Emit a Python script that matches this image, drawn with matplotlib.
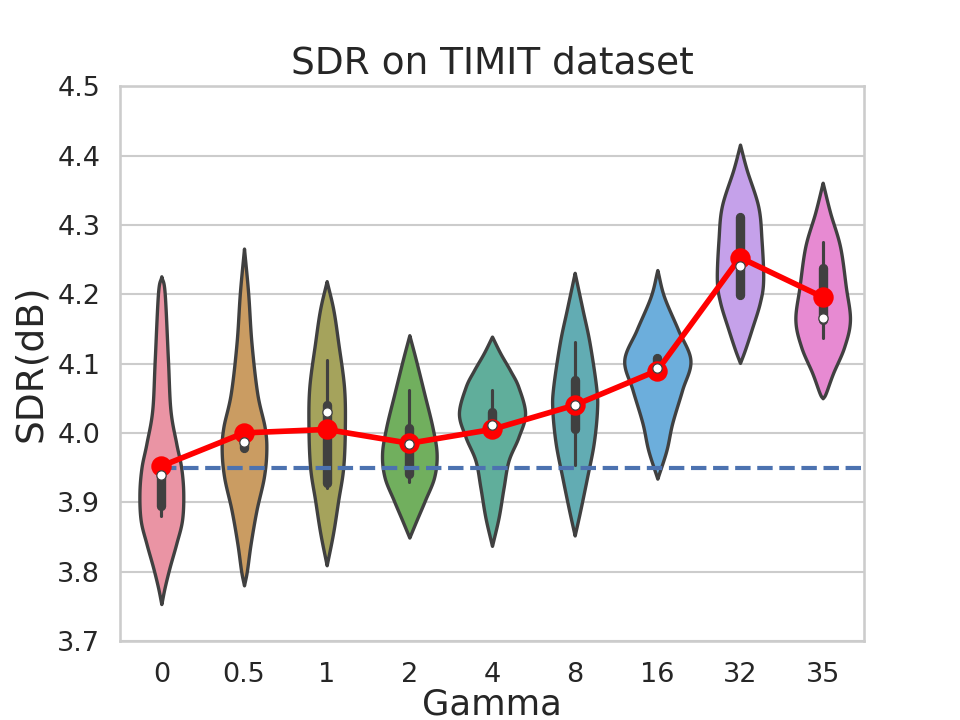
import numpy as np
import matplotlib
matplotlib.use("Agg")
import matplotlib.pyplot as plt
import seaborn as sns
import colorsys

# ---------------- data ----------------
gammas = ["0", "0.5", "1", "2", "4", "8", "16", "32", "35"]

# violin density profiles: SDR levels and half-widths (category units)
violin_levels = [
    [3.753, 3.777, 3.806, 3.840, 3.874, 3.913, 3.950, 3.985, 4.033, 4.105, 4.202, 4.226],
    [3.780, 3.801, 3.840, 3.888, 3.936, 3.975, 4.008, 4.057, 4.130, 4.202, 4.266],
    [3.809, 3.855, 3.903, 3.950, 4.008, 4.066, 4.130, 4.178, 4.219],
    [3.849, 3.874, 3.903, 3.936, 3.970, 4.008, 4.057, 4.105, 4.141],
    [3.837, 3.878, 3.921, 3.960, 3.994, 4.028, 4.066, 4.090, 4.115, 4.139],
    [3.852, 3.888, 3.936, 3.985, 4.033, 4.066, 4.130, 4.178, 4.231],
    [3.934, 3.975, 4.014, 4.062, 4.105, 4.149, 4.197, 4.235],
    [4.101, 4.120, 4.149, 4.188, 4.221, 4.279, 4.327, 4.380, 4.416],
    [4.050, 4.057, 4.086, 4.124, 4.163, 4.211, 4.269, 4.318, 4.361],
]
violin_halfwidths = [
    [0.0, 0.040, 0.10, 0.18, 0.25, 0.265, 0.24, 0.18, 0.11, 0.08, 0.04, 0.0],
    [0.0, 0.035, 0.08, 0.15, 0.24, 0.27, 0.25, 0.16, 0.09, 0.05, 0.0],
    [0.0, 0.077, 0.14, 0.20, 0.22, 0.21, 0.14, 0.08, 0.0],
    [0.0, 0.087, 0.19, 0.30, 0.33, 0.28, 0.18, 0.08, 0.0],
    [0.0, 0.08, 0.14, 0.20, 0.32, 0.40, 0.32, 0.22, 0.10, 0.0],
    [0.0, 0.067, 0.15, 0.23, 0.27, 0.26, 0.18, 0.095, 0.0],
    [0.0, 0.11, 0.18, 0.30, 0.40, 0.25, 0.08, 0.0],
    [0.0, 0.06, 0.14, 0.24, 0.28, 0.26, 0.22, 0.08, 0.0],
    [0.0, 0.036, 0.125, 0.26, 0.33, 0.28, 0.21, 0.09, 0.0],
]

q1 = [3.895, 3.978, 3.928, 3.941, 4.004, 4.006, 4.090, 4.199, 4.163]
medians = [3.939, 3.987, 4.030, 3.984, 4.011, 4.040, 4.094, 4.241, 4.166]
q3 = [3.943, 3.987, 4.040, 4.007, 4.030, 4.076, 4.108, 4.312, 4.238]
whisk_lo = [3.880, 3.978, 3.921, 3.929, 4.000, 3.953, 4.090, 4.199, 4.137]
whisk_hi = [3.943, 3.987, 4.105, 4.062, 4.062, 4.131, 4.108, 4.312, 4.276]

means = [3.952, 4.000, 4.005, 3.985, 4.005, 4.040, 4.090, 4.253, 4.196]
baseline = 3.95

# ---------------- style ----------------
sns.set_theme(style="whitegrid")
plt.rcParams["font.family"] = ["DejaVu Sans"]

fig, ax = plt.subplots(figsize=(6.4, 4.8), dpi=150)

pal = sns.color_palette("husl", len(gammas))
colors = []
for c in pal:
    d = np.array(sns.desaturate(c, 0.75))
    colors.append(tuple(d + (1 - d) * 0.15))
lum = min(colorsys.rgb_to_hls(*sns.desaturate(c, 0.75))[1] for c in pal) * 0.6
gray = (lum, lum, lum)


def catmull(ys, ws, n=30):
    ys = np.asarray(ys, float)
    ws = np.asarray(ws, float)
    P = np.column_stack([ys, ws])
    P = np.vstack([P[0] - (P[1] - P[0]), P, P[-1] + (P[-1] - P[-2])])
    out = []
    t = np.linspace(0, 1, n, endpoint=False)[:, None]
    for i in range(1, len(P) - 2):
        p0, p1, p2, p3 = P[i - 1], P[i], P[i + 1], P[i + 2]
        seg = 0.5 * ((2 * p1) + (-p0 + p2) * t + (2 * p0 - 5 * p1 + 4 * p2 - p3) * t ** 2
                     + (-p0 + 3 * p1 - 3 * p2 + p3) * t ** 3)
        out.append(seg)
    out.append(P[-2][None, :])
    out = np.vstack(out)
    return out[:, 0], np.clip(out[:, 1], 0, None)


for i in range(len(gammas)):
    yy, ww = catmull(violin_levels[i], violin_halfwidths[i])
    ax.fill_betweenx(yy, i - ww, i + ww, facecolor=colors[i], edgecolor=gray,
                     linewidth=1.6, zorder=1, joinstyle="round")
    ax.plot([i, i], [whisk_lo[i], whisk_hi[i]], color=gray, lw=1.5,
            solid_capstyle="round", zorder=2)
    ax.plot([i, i], [q1[i], q3[i]], color=gray, lw=4.5,
            solid_capstyle="round", zorder=2)

x = np.arange(len(gammas))
ax.plot([x[0], x[-1] + 0.6], [baseline, baseline], color="#4c72b0", lw=2,
        ls="--", zorder=2.2)

lw_pt = 1.5 * 1.8
ax.plot(x, means, color="red", lw=lw_pt, zorder=2.5, solid_capstyle="round")
ax.scatter(x, means, color="red", s=np.pi * lw_pt ** 2 * 2.2, linewidths=lw_pt,
           edgecolors="red", zorder=2.6)

ax.scatter(x, medians, color="white", edgecolors=gray, s=20,
           linewidths=0.6, zorder=3)

ax.set_xlim(-0.5, len(gammas) - 0.5)
ax.set_ylim(3.7, 4.5)
yt = np.round(np.arange(3.7, 4.51, 0.1), 1)
ax.set_yticks(yt)
ax.set_yticklabels([f"{v:.1f}" for v in yt], fontsize=13)
ax.set_xticks(x)
ax.set_xticklabels(gammas, fontsize=13)
ax.tick_params(axis="x", pad=4)
ax.xaxis.grid(False)
ax.set_xlabel("Gamma", fontsize=17, labelpad=0)
ax.set_ylabel("SDR(dB)", fontsize=18)
ax.set_title("SDR on TIMIT dataset", fontsize=18)

fig.savefig("out.png", dpi=150)
